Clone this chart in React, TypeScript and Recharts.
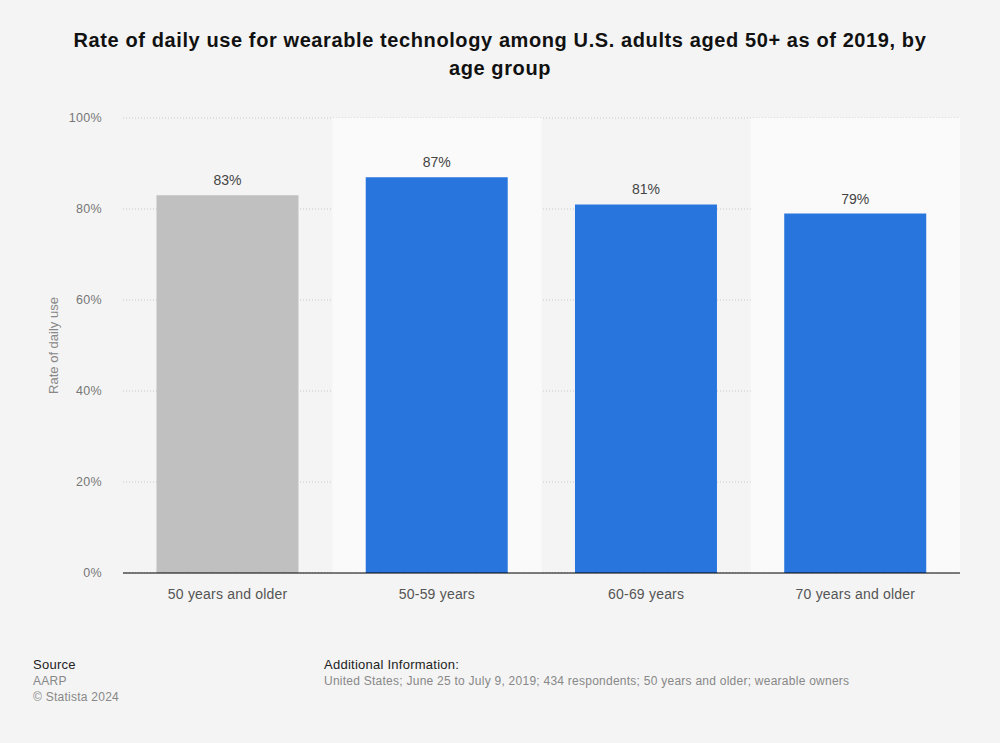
import React from 'react';
import { BarChart, Bar, XAxis, YAxis, CartesianGrid, Cell, LabelList, ReferenceArea } from 'recharts';

const ageGroups = ['50 years and older', '50-59 years', '60-69 years', '70 years and older'];
const dailyUse = [83, 87, 81, 79];
const yTicks = [0, 20, 40, 60, 80, 100];

const data = ageGroups.map((group, i) => ({ group, value: dailyUse[i] }));

const FONT = '"Liberation Sans", Arial, Helvetica, sans-serif';
const BLUE = '#2876dd';
const GREY = '#c0c0c0';

const App: React.FC = () => {
  return (
    <div
      style={{
        position: 'fixed',
        top: 0,
        left: 0,
        width: 1000,
        height: 743,
        background: '#f4f4f4',
        fontFamily: FONT,
        overflow: 'hidden',
      }}
    >
      <div
        style={{
          position: 'absolute',
          top: 26,
          left: 0,
          width: 1000,
          textAlign: 'center',
          fontSize: 20,
          fontWeight: 'bold',
          color: '#111',
          lineHeight: '28px',
          letterSpacing: '0.6px',
        }}
      >
        Rate of daily use for wearable technology among U.S. adults aged 50+ as of 2019, by
        <br />
        age group
      </div>

      <div style={{ position: 'absolute', top: 0, left: 0 }}>
        <BarChart
          width={1000}
          height={743}
          data={data}
          margin={{ top: 118, right: 40, bottom: 140, left: 63 }}
          barCategoryGap="16%"
        >
          <ReferenceArea x1={ageGroups[1]} x2={ageGroups[1]} fill="#fafafa" fillOpacity={1} stroke="none" ifOverflow="visible" />
          <ReferenceArea x1={ageGroups[3]} x2={ageGroups[3]} fill="#fafafa" fillOpacity={1} stroke="none" ifOverflow="visible" />
          <CartesianGrid vertical={false} stroke="#c8c8c8" strokeDasharray="1 2" />
          <XAxis
            dataKey="group"
            height={30}
            axisLine={{ stroke: '#000', strokeWidth: 1 }}
            tickLine={false}
            tick={{ fontSize: 14, fill: '#555', fontFamily: FONT, letterSpacing: '0.2px' }}
            tickMargin={10}
            interval={0}
          />
          <YAxis
            width={60}
            domain={[0, 100]}
            ticks={yTicks}
            tickFormatter={(v: number) => `${v}%`}
            axisLine={false}
            tickLine={false}
            tick={{ fontSize: 12.5, fill: '#777', fontFamily: FONT, letterSpacing: '0.3px' }}
            tickMargin={15}
            label={{
              value: 'Rate of daily use',
              angle: -90,
              position: 'insideLeft',
              offset: -10,
              style: { fontSize: 13, fill: '#888', fontFamily: FONT, textAnchor: 'middle' },
            }}
          />
          <Bar dataKey="value" isAnimationActive={false}>
            {data.map((d, i) => (
              <Cell key={d.group} fill={i === 0 ? GREY : BLUE} />
            ))}
            <LabelList
              dataKey="value"
              position="top"
              offset={10}
              formatter={(v: number) => `${v}%`}
              style={{ fontSize: 14, fill: '#444', fontFamily: FONT }}
            />
          </Bar>
        </BarChart>
      </div>

      <div style={{ position: 'absolute', top: 657, left: 33, fontSize: 13, lineHeight: '16px', letterSpacing: '0.25px' }}>
        <div style={{ color: '#222' }}>Source</div>
        <div style={{ color: '#888', fontSize: 12 }}>AARP</div>
        <div style={{ color: '#888', fontSize: 12 }}>© Statista 2024</div>
      </div>
      <div style={{ position: 'absolute', top: 657, left: 324, fontSize: 13, lineHeight: '16px', letterSpacing: '0.25px' }}>
        <div style={{ color: '#222' }}>Additional Information:</div>
        <div style={{ color: '#888', fontSize: 12 }}>
          United States; June 25 to July 9, 2019; 434 respondents; 50 years and older; wearable owners
        </div>
      </div>
    </div>
  );
};

export default App;
